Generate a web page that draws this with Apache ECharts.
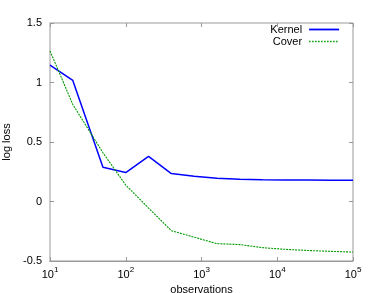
<!DOCTYPE html>
<html><head><meta charset="utf-8">
<script src="https://cdn.jsdelivr.net/npm/echarts@6/dist/echarts.min.js"></script>
<style>html,body{margin:0;padding:0;background:#fff}#c{width:390px;height:293px}</style>
</head><body><div id="c"></div>
<script>
var observations = [10, 20, 50, 100, 200, 400, 800, 1600, 3200, 6400, 12800, 25600, 51200, 100000];
var kernelLoss = [1.145, 1.017, 0.287, 0.243, 0.379, 0.235, 0.212, 0.195, 0.186, 0.183, 0.181, 0.180, 0.179, 0.178];
var coverLoss = [1.265, 0.815, 0.41, 0.138, -0.055, -0.245, -0.30, -0.354, -0.362, -0.388, -0.402, -0.412, -0.419, -0.425];
var yTicks = [-0.5, 0, 0.5, 1, 1.5];
var seriesNames = ['Kernel', 'Cover'];

function pairs(xs, ys){ return xs.map(function(x,i){ return [x, ys[i]]; }); }
var font = 'Liberation Sans, Arial, sans-serif';
var chart = echarts.init(document.getElementById('c'), null, {renderer:'canvas'});
var supFmt = function(v){ var e = Math.round(Math.log10(v)); return '{a|10}{b|' + e + '}'; };
chart.setOption({
  animation: false,
  backgroundColor: '#fff',
  grid: {left: 50, right: 37, top: 23, bottom: 32, show: true, borderColor: '#999', borderWidth: 1, outerBoundsMode: 'none', containLabel: false},
  legend: {
    orient: 'vertical', right: 45, top: 19, align: 'right', itemGap: 1,
    itemWidth: 30, itemHeight: 10,
    textStyle: {fontFamily: font, fontSize: 11, color: '#000', padding: [0, 2, 0, 0]},
    data: [
      {name: 'Kernel', itemStyle: {color: '#0000ff', opacity: 0}, lineStyle: {color: '#0000ff', width: 1.8, type: 'solid'}},
      {name: 'Cover', itemStyle: {color: '#009a00', opacity: 0}, lineStyle: {color: '#009a00', width: 1.5, type: 'dotted'}}
    ]
  },
  xAxis: [{
    type: 'log', logBase: 10, min: 10, max: 100000,
    name: 'observations', nameLocation: 'middle', nameGap: 22,
    nameTextStyle: {fontFamily: font, fontSize: 11, color: '#000'},
    axisLine: {onZero: false, lineStyle: {color: '#999', width: 1}},
    axisTick: {inside: true, length: 4, lineStyle: {color: '#999'}},
    minorTick: {show: false},
    splitLine: {show: false},
    axisLabel: {formatter: supFmt, margin: 5, rich: {
      a: {fontFamily: font, fontSize: 11, color: '#000', verticalAlign: 'bottom', lineHeight: 14},
      b: {fontFamily: font, fontSize: 8, color: '#000', verticalAlign: 'top', lineHeight: 14}
    }}
  }, {
    type: 'log', logBase: 10, min: 10, max: 100000, position: 'top',
    axisLine: {show: false, onZero: false}, axisLabel: {show: false}, splitLine: {show: false},
    axisTick: {inside: true, length: 4, lineStyle: {color: '#999'}}
  }],
  yAxis: [{
    type: 'value', min: yTicks[0], max: yTicks[yTicks.length-1], interval: 0.5,
    name: 'log loss', nameLocation: 'middle', nameGap: 37, nameRotate: 90,
    nameTextStyle: {fontFamily: font, fontSize: 11, color: '#000'},
    axisLine: {show: true, onZero: false, lineStyle: {color: '#ccc', width: 2}},
    axisTick: {show: true, inside: true, length: 4, lineStyle: {color: '#999'}},
    splitLine: {show: false},
    axisLabel: {fontFamily: font, fontSize: 11, color: '#000', margin: 8}
  }, {
    type: 'value', min: yTicks[0], max: yTicks[yTicks.length-1], interval: 0.5, position: 'right',
    axisLine: {show: false, onZero: false}, axisLabel: {show: false}, splitLine: {show: false},
    axisTick: {show: true, inside: true, length: 4, lineStyle: {color: '#999'}}
  }],
  series: [{
    name: seriesNames[0], type: 'line', data: pairs(observations, kernelLoss),
    showSymbol: false, symbol: 'none', lineStyle: {color: '#0000ff', width: 1.5}, itemStyle: {color: '#0000ff'}
  }, {
    name: seriesNames[1], type: 'line', data: pairs(observations, coverLoss),
    showSymbol: false, symbol: 'none', lineStyle: {color: '#009a00', width: 1.1, type: [2, 1]}, itemStyle: {color: '#009a00'}
  }]
});
</script></body></html>
